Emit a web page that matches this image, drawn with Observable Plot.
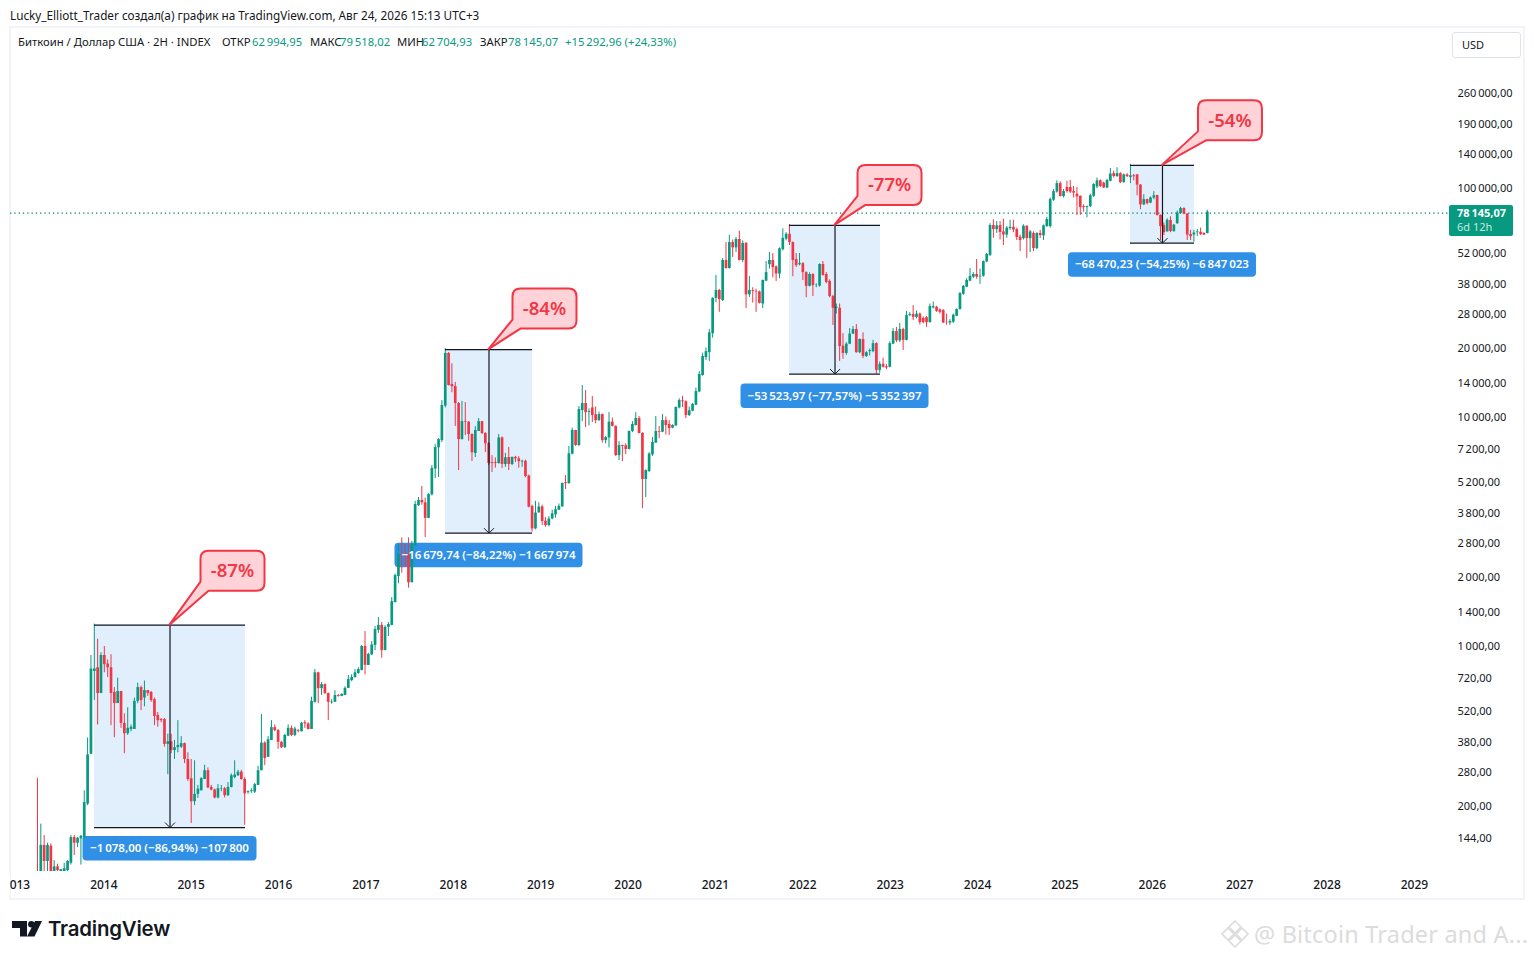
<!DOCTYPE html>
<html lang="ru">
<head>
<meta charset="utf-8">
<script src="https://cdn.jsdelivr.net/npm/d3@7"></script>
<script src="https://cdn.jsdelivr.net/npm/@observablehq/plot@0.6"></script>
<style>
html,body{margin:0;padding:0;background:#fff;width:1534px;height:959px;overflow:hidden;font-family:"Noto Sans",sans-serif;color:#131722}
#chart{position:absolute;left:0;top:0}
.abs{position:absolute;white-space:nowrap}
#panel{left:9px;top:26px;width:1512px;height:870px;border:2px solid #f0f3fa;box-sizing:content-box}
#credit{left:10px;top:7px;font-size:11.75px;line-height:16px}
.leg{top:33.5px;font-size:11.3px;line-height:16px}
.up{color:#089981}
#usd{left:1452px;top:32px;width:67px;height:24px;border:1px solid #e0e3eb;border-radius:3px;font-size:11px;line-height:24px;text-indent:9px;background:#fff}
#cut{left:0;top:875px;width:10px;height:20px;background:#fff}
#logoText{left:48px;top:915px;font:600 20.4px/28px Inter,sans-serif;letter-spacing:-.2px}
#mark{left:1254px;top:918px;font-size:23.5px;line-height:32px;color:#dcdcdc;letter-spacing:.2px}
</style>
</head>
<body>
<div id="panel" class="abs"></div>
<div id="chart"></div>
<div id="cut" class="abs"></div>
<div id="credit" class="abs">Lucky_Elliott_Trader создал(а) график на TradingView.com, Авг 24, 2026 15:13 UTC+3</div>
<div id="usd" class="abs">USD</div>
<svg class="abs" style="left:12px;top:921px" width="30" height="16" viewBox="0 0 30 16"><path fill="#131722" d="M0 0H15V15.5H8V7H0Z"/><circle cx="19.3" cy="3.2" r="3.2" fill="#131722"/><path fill="#131722" d="M23 0H30L22.5 15.5H15Z"/></svg>
<div id="logoText" class="abs">TradingView</div>
<svg class="abs" style="left:1220px;top:919px" width="30" height="30" viewBox="0 0 30 30" fill="none" stroke="#dcdcdc" stroke-width="1.6"><path d="M15 2 21 8 15 14 9 8Z"/><path d="M15 16 21 22 15 28 9 22Z"/><path d="M8 9 14 15 8 21 2 15Z"/><path d="M22 9 28 15 22 21 16 15Z"/></svg>
<div id="mark" class="abs">@ Bitcoin Trader and A...</div>
<script>
// Two-week candles, each row is [open, close, high, low].
const bars2013 = [[100,98,263,90],[95,134,166,90],[134,114,148,100],[114,134,137,100],[133,100,136,90],[100,108,115,90],[108,104,111,100],[103,105,105,100],[103,106,112,102],[104,114,115,102],[112,145,148,110],[145,137,148,121],[137,144,145,131],[143,147,148,110],[145,206,232,143],[203,333,395,200],[335,790,905,335],[770,790,1240,575],[800,617,1065,450],[617,905,930,617]];
const bars2014 = [[905,825,990,760],[830,800,865,725],[800,617,912,447],[624,558,655,396],[558,630,720,558],[630,457,630,435],[457,412,503,337],[412,435,535,405],[430,440,450,420],[430,570,590,430],[570,655,685,557],[655,575,665,520],[590,636,700,540],[636,617,636,600],[624,575,630,565],[580,490,590,447],[495,470,510,440],[475,470,480,460],[475,370,480,360],[370,380,410,273],[380,348,410,337],[348,358,385,318],[358,366,470,340],[360,373,400,355],[373,318,375,305],[318,260,340,255]];
const bars2015 = [[262,208,318,167],[208,224,314,200],[224,236,245,215],[232,262,265,232],[260,284,300,260],[284,239,292,237],[240,234,245,232],[234,216,236,214],[216,237,247,214],[236,237,245,230],[237,221,240,216],[221,240,252,219],[240,270,275,239],[265,272,314,262],[270,280,285,268],[280,260,285,258],[260,225,265,164],[228,230,232,224],[230,232,237,226],[229,247,250,226],[245,284,297,245],[284,375,500,284],[375,321,380,299],[325,388,400,325],[385,438,470,385],[438,425,450,420]];
const bars2016 = [[425,378,430,352],[378,358,380,355],[358,405,410,355],[402,435,450,400],[435,405,445,400],[405,432,440,400],[425,422,430,415],[420,458,462,420],[460,455,470,435],[455,430,460,428],[430,570,595,430],[565,760,785,560],[760,648,765,557],[648,675,690,605],[675,617,680,610],[617,565,620,470],[562,566,580,555],[565,605,635,565],[605,600,612,595],[600,612,615,598],[605,650,660,605],[650,710,740,650],[703,725,745,695],[725,760,785,720],[755,785,800,750],[778,990,1000,775]];
const bars2017 = [[990,820,1150,745],[818,915,925,818],[910,1005,1040,905],[1000,1175,1210,950],[1165,1225,1325,1130],[1225,950,1260,880],[950,1200,1220,950],[1200,1235,1260,1095],[1225,1555,1620,1220],[1540,2020,2050,1535],[2000,2495,2760,1860],[2490,2470,2950,2070],[2490,2480,2760,2210],[2490,1880,2950,1780],[1880,2750,2850,1880],[2730,4130,4260,2700],[4080,4300,4430,4050],[4300,4200,4950,4100],[4200,3590,4400,2960],[3590,4570,4600,3580],[4550,5930,6100,4500],[5900,7320,7540,5360],[7300,7930,8000,5420],[7850,11170,11740,7700],[11100,18860,19800,10900]];
const bars2018 = [[18860,13660,19000,13600],[13800,13500,17000,12700],[13520,11400,14100,9050],[11400,7930,11500,5810],[7930,9500,11640,7900],[9520,9450,11500,8260],[9450,8350,9500,7800],[8350,6950,8400,6360],[6900,8690,9040,6620],[8600,9500,9790,8600],[9500,8430,9520,8350],[8430,7610,8500,6960],[7620,6230,7700,6100],[6290,6230,6750,5700],[6290,6240,6600,5950],[6230,8060,8340,6200],[8060,6170,8150,5930],[6170,6610,6900,6000],[6620,6170,7330,5810],[6170,6630,6650,6100],[6630,6530,6700,6300],[6530,6350,6680,5950],[6330,6380,6440,6000],[6380,5470,6450,5400],[5500,4020,5550,3990],[4050,3230,4100,3130]];
const bars2019 = [[3230,3790,4260,3200],[3790,4030,4200,3800],[4030,3480,4100,3340],[3490,3340,3620,3290],[3340,3570,3650,3300],[3570,3760,3900,3540],[3720,3920,4050,3600],[3900,4050,4150,3880],[4030,5100,5130,4020],[5140,5090,5520,4800],[5090,6880,7400,5070],[6850,8690,8900,6800],[8690,7470,8700,7400],[7470,10730,11060,7400],[10620,11400,13660,9500],[11400,10400,13000,8950],[10400,10500,10800,9100],[10900,10100,12230,9400],[10180,9600,11000,9300],[9600,10200,10450,9500],[10200,7850,10250,7650],[7850,8090,8200,7600],[8060,9450,10400,7300],[9450,9060,9850,9000],[9060,6750,9100,6700],[6750,7470,7780,6420]];
const bars2020 = [[7470,7400,7500,6360],[7450,7180,7600,6820],[7180,8600,8650,7150],[8600,9230,9500,8500],[9130,9800,10400,9100],[9800,8430,10000,8400],[8430,5310,8500,3960],[5310,5810,5850,4430],[5750,6860,6950,5700],[6800,7700,8100,6700],[7650,8600,10000,7650],[8600,8540,9050,8000],[8540,9600,10200,8500],[9600,9130,9950,8300],[9230,8860,9600,8270],[8900,9130,9200,8850],[9100,10960,11000,9050],[10900,11740,11950,10800],[11700,11600,12250,10950],[11600,10100,11700,9800],[10100,10600,11000,10000],[10550,11300,11400,10500],[11200,12860,13300,11150],[12800,15260,15700,12700],[15100,18280,18900,15000],[18100,19200,19900,17560]];
const bars2021 = [[19000,23200,24000,17400],[23000,32800,33000,22000],[32800,35500,41300,31400],[35500,32400,35900,28500],[32100,48000,49000,31800],[48000,44300,57500,44000],[44300,57500,62000,44000],[57500,54500,59000,49500],[54500,59300,60500,52000],[59300,48000,64500,47800],[48000,57000,58500,47000],[57000,34000,57500,29600],[34000,35500,40900,33100],[35500,35200,36500,31300],[35200,35000,36000,28500],[35000,31200,35300,31000],[31000,39250,39500,29600],[39000,42500,47500,38800],[46000,48000,52000,44000],[48000,44700,51500,40300],[45000,41900,45500,38900],[41900,54000,54500,40000],[53500,60000,66000,52800],[59500,62500,63500,58500],[62500,57500,69000,55800],[57500,48000,57800,40800]];
const bars2022 = [[48500,45600,51500,44800],[46000,46500,51500,45500],[46500,42500,47000,39250],[42500,37000,42800,33000],[37000,41700,42400,36800],[41700,37300,42000,33400],[37300,37400,38000,36500],[37100,46100,46400,36700],[46100,41300,47500,41000],[41700,38500,42500,38000],[38900,33400,39500,33000],[33400,29700,33800,24970],[29700,30000,31000,28000],[29700,20200,31000,17400],[20300,18860,23000,17800],[18860,20700,21000,18500],[20700,22900,24200,20600],[22900,24000,24700,22800],[24000,19000,25200,18900],[19000,21700,21800,18800],[21700,18300,23200,17900],[18300,19000,19200,18100],[19200,19400,19700,18400],[19200,20800,21500,19000],[20800,15900,21000,15300],[15900,16900,17300,15476]];
const bars2023 = [[16900,16400,18000,16300],[16500,16300,16900,16000],[16400,20800,21200,16300],[20700,23500,24200,20600],[23500,21400,24500,21000],[21400,24000,25500,21000],[24000,21500,24300,19420],[21500,27600,28800,21400],[27600,27900,28400,27300],[27900,27100,30500,26250],[27100,28000,28900,26700],[28000,25700,28300,25100],[26800,25700,27200,25400],[27000,25700,27300,24500],[25700,30200,31000,25600],[29800,30200,31600,29500],[30000,28800,30300,28500],[29200,28500,29500,28000],[29000,25600,29300,25500],[25800,25700,28000,25000],[25600,26000,26500,25000],[25800,27700,28000,25500],[27400,29300,29500,27300],[29300,34400,34800,29200],[34200,37000,37300,33800],[36700,39250,40000,36500]];
const bars2024 = [[39000,40900,44300,38800],[40600,41700,42500,40000],[41700,40600,48500,39800],[40700,41000,44000,37800],[41000,47500,47800,40600],[47300,51000,51500,47000],[50500,68200,69500,50000],[68200,65500,72300,60000],[65500,68000,71000,63000],[68200,63600,71000,59000],[64000,62000,72700,55800],[62000,66500,67500,60000],[66200,67000,72000,65000],[67000,65200,72000,63500],[65500,60500,66500,58700],[60700,58700,62000,52500],[59800,67800,68700,59000],[67800,59800,68000,49000],[59800,64000,65000,52000],[63000,54100,64000,52500],[54100,63000,63500,53500],[63000,61700,65000,60000],[61500,68000,68500,58700],[67500,72500,74000,67000],[67500,88600,90000,66500],[88000,96000,98000,87000]];
const bars2025 = [[95500,104000,107000,94500],[104000,91300,106000,91000],[91300,96000,98000,90000],[100000,96000,106500,94500],[100000,95500,107300,94000],[96000,94500,101000,90000],[93500,91000,100000,75400],[91500,81700,92000,75500],[82500,81700,84000,78000],[81700,82500,83000,73800],[82500,92000,93500,81700],[91500,103000,104000,90500],[100500,107000,110000,99000],[107000,101000,108000,100000],[104500,99500,105500,99000],[99500,107300,108500,99000],[106500,114500,121000,106000],[115000,111700,118000,110000],[111700,115000,122000,110500],[115000,105000,116000,104000],[105000,113500,114500,104500],[113500,111500,115000,110500],[110500,112500,126200,104000],[112500,111500,114000,107000],[113500,102500,114000,92000],[102500,84000,103000,80000]];
const bars2026 = [[84000,88500,93000,83500],[88500,85000,89000,84000],[85500,90000,91000,85000],[90000,92000,96000,88500],[92250,75500,92500,75000],[75500,67500,76000,58700],[68200,63500,70000,61700],[64000,72000,73000,64000],[71750,64200,74500,63500],[64200,68500,69000,63800],[69500,77500,79000,69000],[77000,81000,82000,76500],[81000,76500,81500,76000],[76500,62000,77000,58700],[62300,61000,65000,58700],[62000,63300,65000,57742],[63500,64000,65500,61000],[63700,62300,66500,61700],[63000,62000,63500,61700],[62995,78145,79518,62705]];

const firstBarYear = 2013.24;
const barsPerYear = 26.14;
const yearTicks = [2013,2014,2015,2016,2017,2018,2019,2020,2021,2022,2023,2024,2025,2026,2027,2028,2029];
const priceTicks = [260000,190000,140000,100000,52000,38000,28000,20000,14000,10000,7200,5200,3800,2800,2000,1400,1000,720,520,380,280,200,144];
const lastClose = 78145.07;

// Four measured declines.
const measureStart = [2013.893,2017.91,2021.848,2025.75];
const measureEnd = [2015.621,2018.906,2022.889,2026.483];
const measureHigh = [1240,19805,69000,126212];
const measureLow = [162,3125,15476,57742];
const measureLabels = ["−1\u2009078,00 (−86,94%) −107\u2009800","−16\u2009679,74 (−84,22%) −1\u2009667\u2009974","−53\u2009523,97 (−77,57%) −5\u2009352\u2009397","−68\u2009470,23 (−54,25%) −6\u2009847\u2009023"];
const calloutLabels = ["-87%","-84%","-77%","-54%"];

const legendParts = [
  [18,"Биткоин / Доллар США · 2Н · INDEX",""],[222,"ОТКР",""],[252,"62\u2009994,95","up"],[310,"МАКС",""],[340,"79\u2009518,02","up"],
  [397,"МИН",""],[422,"62\u2009704,93","up"],[480,"ЗАКР",""],[508,"78\u2009145,07","up"],[565,"+15\u2009292,96 (+24,33%)","up"]
];
for (const [left, text, cls] of legendParts) {
  const s = document.createElement("div");
  s.className = "abs leg " + cls; s.style.left = left + "px"; s.textContent = text;
  document.body.appendChild(s);
}

const GREEN = "#089981", RED = "#f23645", INK = "#131722";
const bars = [bars2013,bars2014,bars2015,bars2016,bars2017,bars2018,bars2019,bars2020,bars2021,bars2022,bars2023,bars2024,bars2025,bars2026]
  .flat().map(([o,c,h,l],i) => ({t: firstBarYear + i/barsPerYear, o, c, h, l, col: c >= o ? GREEN : RED}));
const measures = measureStart.map((x1,i) => ({x1, x2: measureEnd[i], xc: (x1+measureEnd[i])/2, high: measureHigh[i], low: measureLow[i], label: measureLabels[i], callout: calloutLabels[i]}));

const calloutOffset = [[31,-73],[24,-59.5],[23,-59],[36,-63.5]];
const labelWidth = [174,188,188,188];
const labelGap = [10,11,11,10.5];
const labelBaseline = [15.5,16,16,16];
const priceText = d => String(d).replace(/\B(?=(\d{3})+$)/g,"\u2009") + ",00";

function measureLabelMark(index, {x, y}) {
  const g = d3.create("svg:g");
  measures.forEach((m,i) => {
    const cx = x(m.xc), top = y(m.low) + labelGap[i], w = labelWidth[i];
    g.append("rect").attr("x",cx-w/2).attr("y",top).attr("width",w).attr("height",24.5).attr("rx",4).attr("fill","#2f90e6");
  });
  return g.node();
}
function measureTextMark(index, {x, y}) {
  const g = d3.create("svg:g");
  measures.forEach((m,i) => {
    g.append("text").attr("x",x(m.xc)).attr("y",y(m.low)+labelGap[i]+labelBaseline[i]).attr("text-anchor","middle").attr("fill","#fff")
      .attr("font-family",'"Noto Sans",sans-serif').attr("font-size",11.5).attr("font-weight",600).text(m.label);
  });
  return g.node();
}
function arrowMark(index, {x, y}) {
  const g = d3.create("svg:g");
  measures.forEach(m => {
    const cx = x(m.xc)+0.5, by = y(m.low)+1.5;
    g.append("path").attr("d",`M${cx-5} ${by-5}L${cx} ${by}L${cx+5} ${by-5}`).attr("fill","none").attr("stroke",INK).attr("stroke-width",1);
  });
  return g.node();
}
function calloutMark(index, {x, y}) {
  const g = d3.create("svg:g");
  measures.forEach((m,i) => {
    const ax = x(m.xc), ay = y(m.high), bx = ax + calloutOffset[i][0], by = ay + calloutOffset[i][1];
    const w = 64, h = 40, r = 8;
    g.append("path").attr("d",
      `M${bx+r} ${by}H${bx+w-r}Q${bx+w} ${by} ${bx+w} ${by+r}V${by+h-r}Q${bx+w} ${by+h} ${bx+w-r} ${by+h}H${bx+8}L${ax} ${ay+1}L${bx} ${by+h-9}V${by+r}Q${bx} ${by} ${bx+r} ${by}Z`)
      .attr("fill","#ffd3d7").attr("stroke",RED).attr("stroke-width",2).attr("stroke-linejoin","round");
    g.append("text").attr("x",bx+w/2).attr("y",by+h/2+6.5).attr("text-anchor","middle").attr("fill",RED)
      .attr("font-family",'"Noto Sans",sans-serif').attr("font-size",18.5).attr("font-weight",600).text(m.callout);
  });
  return g.node();
}
function lastPriceMark(index, {y}, values, {width, marginRight}) {
  const g = d3.create("svg:g"), py = y(lastClose), left = width - marginRight;
  g.append("rect").attr("x",left).attr("y",py-6.5).attr("width",64).attr("height",31).attr("rx",2).attr("fill",GREEN);
  g.append("text").attr("x",left+8).attr("y",py+5).attr("text-anchor","start").attr("fill","#fff").attr("font-family",'"Noto Sans",sans-serif').attr("font-size",11).attr("font-weight",700).text("78\u2009145,07");
  g.append("text").attr("x",left+8).attr("y",py+19).attr("text-anchor","start").attr("fill","#c4e8dd").attr("font-family",'"Noto Sans",sans-serif').attr("font-size",11).text("6d 12h");
  return g.node();
}

const chart = Plot.plot({
  width: 1534, height: 959,
  marginTop: 28, marginBottom: 88, marginLeft: 10, marginRight: 85,
  style: {background: "transparent", fontFamily: '"Noto Sans",sans-serif'},
  x: {type: "linear", domain: [2012.9313, 2029.4017]},
  y: {type: "log", domain: [103.1, 494700], axis: null},
  marks: [
    Plot.rect(measures, {x1: "x1", x2: "x2", y1: "low", y2: "high", fill: "#e1eefc", dy: 1}),
    measureLabelMark,
    Plot.ruleY([lastClose], {stroke: "#08806c", strokeWidth: 1.3, strokeDasharray: "1.3 3", dy: 1}),
    Plot.ruleX(bars, {x: "t", y1: "l", y2: "h", stroke: "col", strokeWidth: 1, clip: true}),
    Plot.ruleX(bars, {x: "t", y1: "o", y2: "c", stroke: "col", strokeWidth: 2.7, clip: true}),
    Plot.ruleY(measures, {y: "high", x1: "x1", x2: "x2", stroke: INK, strokeWidth: 1.2, dy: 1}),
    Plot.ruleY(measures, {y: "low", x1: "x1", x2: "x2", stroke: INK, strokeWidth: 1.2, dy: 1}),
    Plot.ruleX(measures, {x: "xc", y1: "low", y2: "high", stroke: INK, strokeWidth: 1.2, dy: 1}),
    arrowMark,
    measureTextMark,
    calloutMark,
    Plot.text(priceTicks, {y: d => d, frameAnchor: "right", text: priceText, textAnchor: "start", dx: 8, dy: 0.5, fill: INK, fontSize: 11}),
    Plot.axisX({anchor: "bottom", ticks: yearTicks, tickSize: 0, tickPadding: 9, label: null, tickFormat: d => String(d), fill: INK, fontSize: 12, fontWeight: 500}),
    lastPriceMark
  ]
});
document.getElementById("chart").appendChild(chart);
</script>
</body>
</html>
